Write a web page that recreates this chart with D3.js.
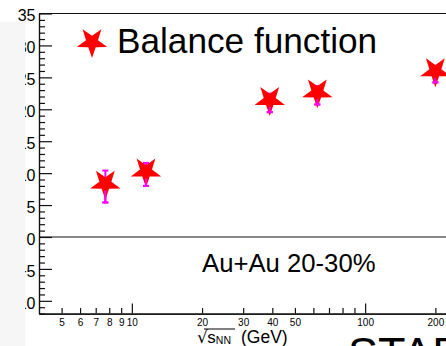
<!DOCTYPE html>
<html>
<head>
<meta charset="utf-8">
<script src="https://cdn.jsdelivr.net/npm/d3@7"></script>
<style>
  html, body { margin: 0; padding: 0; background: #fff; }
  svg { display: block; font-family: "Liberation Sans", Arial, Helvetica, sans-serif; }
</style>
</head>
<body>
<svg id="chart" width="446" height="346"></svg>
<script>
// Collision energies (GeV) and balance-function values with errors
const energies = [7.7, 11.5, 39, 62.4, 200];
const bfValues = [7.9, 9.8, 21.0, 22.2, 25.5];
const bfErrors = [2.5, 1.8, 1.45, 1.45, 1.3];

// Axis ticks
const xMinorTicks = [5, 6, 7, 8, 9, 20, 30, 40, 50, 60, 70, 80, 90, 200, 300];
const xMajorTicks = [10, 100];
const xLabelTicks = [5, 6, 7, 8, 9, 10, 20, 30, 40, 50, 100, 200];
const yMajorTicks = [-10, -5, 0, 5, 10, 15, 20, 25, 30, 35];
const yMinorTicks = d3.range(-12, 36, 1).filter(v => v % 5 !== 0);

const legendLabel = "Balance function";
const systemLabel = "Au+Au 20-30%";
const experimentLabel = "STAR";

const svg = d3.select("#chart");

const x = d3.scaleLog().domain([4, 400]).range([39, 505.6]);
const y = d3.scaleLinear().domain([-12, 35]).range([313.6, 13.5]);

const axisColor = "#111";

// Frame top line and the zero line
svg.append("line")
  .attr("x1", x(4)).attr("x2", 446)
  .attr("y1", y(35)).attr("y2", y(35))
  .attr("stroke", axisColor).attr("stroke-width", 1.2);
svg.append("line")
  .attr("x1", x(4)).attr("x2", 446)
  .attr("y1", y(0)).attr("y2", y(0))
  .attr("stroke", axisColor).attr("stroke-width", 1.2);

// Y axis: major ticks with labels, minor ticks without
const yAxisMajor = d3.axisLeft(y).tickValues(yMajorTicks)
  .tickSizeInner(-13).tickSizeOuter(0).tickPadding(3.5).tickFormat(d3.format("d"));
const yAxisMinor = d3.axisLeft(y).tickValues(yMinorTicks)
  .tickSizeInner(-6).tickSizeOuter(0).tickFormat("");

const gyMinor = svg.append("g").attr("transform", `translate(${x(4)},0)`).call(yAxisMinor);
const gyMajor = svg.append("g").attr("transform", `translate(${x(4)},0)`).call(yAxisMajor);
[gyMinor, gyMajor].forEach(g => {
  g.selectAll("path.domain").attr("stroke", axisColor).attr("stroke-width", 1.2);
  g.selectAll(".tick line").attr("stroke", axisColor).attr("stroke-width", 1.2);
});
gyMajor.selectAll(".tick text")
  .attr("font-size", 16).attr("fill", "#000")
  .attr("font-family", "Liberation Sans, Arial, sans-serif")
  .attr("dy", "0.45em");

// X axis (log): minor, major ticks, then labels
const xAxisMinor = d3.axisBottom(x).tickValues(xMinorTicks)
  .tickSizeInner(-5.5).tickSizeOuter(0).tickFormat("");
const xAxisMajor = d3.axisBottom(x).tickValues(xMajorTicks)
  .tickSizeInner(-10).tickSizeOuter(0).tickFormat("");
const xAxisLabels = d3.axisBottom(x).tickValues(xLabelTicks)
  .tickSizeInner(0).tickSizeOuter(0).tickPadding(5).tickFormat(d3.format("d"));

const xAxisY = y(-12);
const gxMinor = svg.append("g").attr("transform", `translate(0,${xAxisY})`).call(xAxisMinor);
const gxMajor = svg.append("g").attr("transform", `translate(0,${xAxisY})`).call(xAxisMajor);
const gxLabels = svg.append("g").attr("transform", `translate(0,${xAxisY})`).call(xAxisLabels);
[gxMinor, gxMajor].forEach(g => {
  g.selectAll("path.domain").attr("stroke", axisColor).attr("stroke-width", 1.2);
  g.selectAll(".tick line").attr("stroke", axisColor).attr("stroke-width", 1.2);
});
gxLabels.select("path.domain").remove();
gxLabels.selectAll(".tick text")
  .attr("font-size", 10).attr("fill", "#000")
  .attr("font-family", "Liberation Sans, Arial, sans-serif");

// X axis title: sqrt(s_NN) (GeV)
const title = svg.append("text")
  .attr("x", 197).attr("y", 342.5)
  .attr("font-size", 17).attr("fill", "#000");
title.append("tspan").attr("font-size", 17).attr("font-family", "DejaVu Sans, sans-serif").text("√");
title.append("tspan").attr("dx", -0.5).text("s");
title.append("tspan").attr("font-size", 10.5).attr("dy", 1).text("NN");
title.append("tspan").attr("x", 241).attr("dy", -1).attr("font-size", 17.5).text("(GeV)");
svg.append("line")
  .attr("x1", 204).attr("x2", 235).attr("y1", 329).attr("y2", 329)
  .attr("stroke", "#000").attr("stroke-width", 1);

// Inverted five-point star, drawn around a data point
const outerR = 16, innerR = 6.3, starShift = -2.9;
function starPath(cx, cy) {
  const pts = [];
  for (let i = 0; i < 10; i++) {
    const r = i % 2 === 0 ? outerR : innerR;
    const a = Math.PI + i * Math.PI / 5;       // first vertex points down
    pts.push([cx + r * Math.sin(a), cy + starShift - r * Math.cos(a)]);
  }
  return d3.line()(pts) + "Z";
}

const points = energies.map((e, i) => ({ e, v: bfValues[i], err: bfErrors[i] }));
const errColor = "#ff00ff";

// Error bars beneath the markers
const eb = svg.append("g");
points.forEach(d => {
  const cx = x(d.e), y0 = y(d.v + d.err), y1 = y(d.v - d.err);
  eb.append("line").attr("x1", cx).attr("x2", cx).attr("y1", y0).attr("y2", y1)
    .attr("stroke", errColor).attr("stroke-width", 2);
  [y0, y1].forEach(yy => eb.append("line")
    .attr("x1", cx - 3).attr("x2", cx + 3).attr("y1", yy).attr("y2", yy)
    .attr("stroke", errColor).attr("stroke-width", 2));
});

// Markers
svg.append("g").selectAll("path").data(points).join("path")
  .attr("d", d => starPath(x(d.e), y(d.v)))
  .attr("fill", "#ff0000");

// Lower error segments drawn over the markers
const ebTop = svg.append("g");
points.forEach(d => {
  const cx = x(d.e), yc = y(d.v), y1 = y(d.v - d.err);
  if (y1 - yc > 4) {
    ebTop.append("line").attr("x1", cx).attr("x2", cx).attr("y1", yc + 4).attr("y2", y1)
      .attr("stroke", errColor).attr("stroke-width", 2);
  }
  ebTop.append("line").attr("x1", cx - 3).attr("x2", cx + 3).attr("y1", y1).attr("y2", y1)
    .attr("stroke", errColor).attr("stroke-width", 2);
});

// Legend
svg.append("path").attr("d", starPath(92, 45)).attr("fill", "#ff0000");
svg.append("text").attr("x", 117).attr("y", 52.5)
  .attr("font-size", 35.2).attr("fill", "#000").text(legendLabel);

// Collision system label
svg.append("text").attr("x", 202).attr("y", 271.5)
  .attr("font-size", 25.7).attr("fill", "#000").text(systemLabel);

// Experiment label along the bottom edge
svg.append("text").attr("x", 348).attr("y", 368.5)
  .attr("font-size", 45).attr("fill", "#000").text(experimentLabel);

// Pale panel covering the left margin
svg.append("rect").attr("x", 0).attr("y", 22).attr("width", 25).attr("height", 324)
  .attr("fill", "#f6f6f6");
</script>
</body>
</html>
